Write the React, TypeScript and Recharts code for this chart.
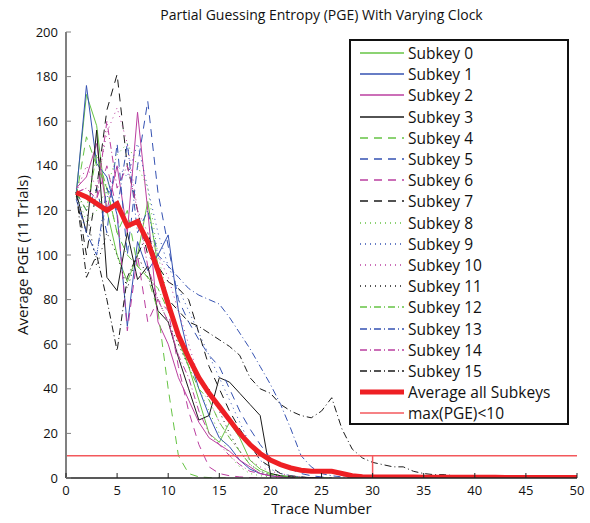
import React from 'react';
import { LineChart, Line, XAxis, YAxis, ReferenceLine } from 'recharts';

const traces = [1, 2, 3, 4, 5, 6, 7, 8, 9, 10, 11, 12, 13, 14, 15, 16, 17, 18, 19, 20, 21, 22, 23, 24, 25, 26, 27, 28, 29, 30, 31, 32, 33, 34, 35, 36, 37, 38, 39, 40, 41, 42, 43, 44, 45, 46, 47, 48, 49, 50];

const xTicks = [0, 5, 10, 15, 20, 25, 30, 35, 40, 45, 50];
const yTicks = [0, 20, 40, 60, 80, 100, 120, 140, 160, 180, 200];

// per-subkey average PGE (series end where they sit on zero)
const subkey0 = [128, 172, 158, 120, 100, 88, 100, 124, 95, 78, 62, 50, 35, 20, 16, 25, 18, 8, 4, 2, 1, 0.5, 0.3, 0.2, 0.1, 0];
const subkey1 = [127, 176, 141, 135, 118, 68, 106, 93, 100, 109, 75, 55, 40, 28, 18, 14, 8, 4, 2, 1, 0.5, 0.3, 0.2, 0.1, 0];
const subkey2 = [130, 135, 150, 120, 140, 110, 164, 120, 70, 60, 45, 35, 25, 18, 15, 12, 8, 5, 2, 1, 0.5, 0.3, 0.2, 0.1, 0];
const subkey3 = [128, 110, 156, 90, 84, 110, 89, 95, 75, 70, 54, 40, 26, 28, 45, 43, 38, 33, 28, 2, 1, 0.5, 0.3, 0.2, 0];
const subkey4 = [126, 153, 140, 130, 110, 120, 95, 90, 75, 40, 10, 2, 0.5, 0.2, 0.1, 0];
const subkey5 = [128, 120, 130, 110, 150, 100, 140, 169, 128, 104, 80, 70, 62, 55, 50, 40, 30, 22, 15, 9, 6, 4, 2, 1, 0.5, 0];
const subkey6 = [128, 130, 125, 140, 120, 66, 100, 70, 80, 75, 50, 30, 15, 5, 2, 1, 0.5, 0.2, 0];
const subkey7 = [128, 100, 130, 165, 181, 140, 120, 100, 95, 88, 85, 80, 65, 50, 40, 30, 22, 15, 8, 5, 2, 1, 0.5, 0];
const subkey8 = [128, 115, 120, 130, 145, 150, 140, 130, 100, 80, 60, 50, 40, 30, 20, 10, 5, 2, 1, 0.5, 0];
const subkey9 = [128, 110, 100, 125, 140, 135, 150, 130, 110, 95, 85, 75, 65, 55, 45, 35, 25, 15, 8, 4, 2, 1, 0.5, 0];
const subkey10 = [128, 140, 130, 155, 166, 150, 120, 110, 100, 90, 75, 60, 45, 35, 25, 18, 12, 8, 5, 3, 2, 1, 0.5, 0];
const subkey11 = [128, 120, 95, 110, 100, 85, 100, 90, 80, 70, 60, 50, 45, 40, 30, 20, 12, 6, 3, 1.5, 1, 0.5, 0];
const subkey12 = [128, 120, 145, 130, 110, 100, 95, 90, 85, 75, 65, 50, 40, 35, 25, 18, 12, 6, 3, 1.5, 1, 0.5, 0];
const subkey13 = [125, 110, 100, 130, 120, 150, 110, 120, 100, 95, 90, 85, 82, 80, 78, 72, 65, 58, 50, 42, 33, 22, 10, 5, 2, 1, 0.5, 0];
const subkey14 = [128, 130, 125, 160, 130, 140, 120, 95, 80, 70, 55, 45, 30, 20, 15, 10, 6, 3, 2, 1, 0.5, 0];
const subkey15 = [128, 90, 100, 80, 57, 90, 100, 110, 95, 80, 75, 70, 68, 65, 62, 59, 55, 45, 40, 38, 33, 30, 28, 27, 30, 36, 22, 13, 9, 7, 6, 5, 5, 3, 2, 1.5, 1.5, 1, 1, 1, 1, 1, 1, 1, 1];
const average = [128, 126, 123, 120, 123, 113, 115, 106, 93, 78, 64, 54, 45, 38, 32, 26, 20, 15, 11, 8, 6, 4.5, 3.5, 3, 3, 3, 2, 1, 0.6, 0.5, 0.4, 0.4, 0.4, 0.4, 0.3, 0.3, 0.3, 0.3, 0.3, 0.3, 0.3, 0.3, 0.2, 0.2, 0.2, 0.2, 0.2, 0.2, 0.2, 0.2];

const pgeLimit = 10;
const limitTrace = 30;

const GREEN = '#66c444';
const BLUE = '#3552b2';
const MAGENTA = '#bb3fa0';
const BLACK = '#1a1a1a';
const RED = '#ee1f24';
const LIMIT_RED = '#f3585c';
const colors = [GREEN, BLUE, MAGENTA, BLACK];
const dashes = [undefined, '8 6', '1 4', '7 3 1 3'];

const subkeys = [subkey0, subkey1, subkey2, subkey3, subkey4, subkey5, subkey6, subkey7, subkey8, subkey9, subkey10, subkey11, subkey12, subkey13, subkey14, subkey15];

const data = traces.map((t, i) => {
  const row: Record<string, number | undefined> = { t, avg: average[i] };
  subkeys.forEach((s, k) => {
    row['s' + k] = s[i];
  });
  return row;
});

const FONT = '"Open Sans", "DejaVu Sans", sans-serif';

function XTick(props: any) {
  const { x, y, payload } = props;
  return (
    <g>
      <line x1={x} y1={y} x2={x} y2={y - 5} stroke="#222" strokeWidth={1} />
      <text x={x} y={y + 17} textAnchor="middle" fontSize={13} fontFamily={FONT} fill="#111">
        {payload.value}
      </text>
    </g>
  );
}

function YTick(props: any) {
  const { x, y, payload } = props;
  return (
    <g>
      <line x1={x} y1={y} x2={x + 5} y2={y} stroke="#808080" strokeWidth={1} />
      <text x={x - 8} y={y + 4.5} textAnchor="end" fontSize={13} fontFamily={FONT} fill="#111">
        {payload.value}
      </text>
    </g>
  );
}

function LegendBox() {
  const rows = subkeys.map((_, k) => ({
    label: 'Subkey ' + k,
    color: colors[k % 4],
    dash: dashes[Math.floor(k / 4)],
    width: 1.5,
  }));
  rows.push({ label: 'Average all Subkeys', color: RED, dash: undefined, width: 5 });
  rows.push({ label: 'max(PGE)<10', color: LIMIT_RED, dash: undefined, width: 1.5 });
  return (
    <div
      style={{
        position: 'absolute',
        left: 349,
        top: 39,
        width: 216,
        height: 382,
        border: '2px solid #111',
        background: '#fff',
        fontFamily: FONT,
      }}
    >
      <svg width={216} height={382} style={{ position: 'absolute', left: 0, top: 0 }}>
        {rows.map((r, i) => {
          const cy = Math.round(12 + i * 21.2);
          return (
            <g key={r.label}>
              <line x1={9} x2={53} y1={cy} y2={cy} stroke={r.color} strokeWidth={r.width} strokeDasharray={r.dash} />
              <text x={57} y={cy + 5.5} fontSize={15.5} fontFamily={FONT} fill="#111">
                {r.label}
              </text>
            </g>
          );
        })}
      </svg>
    </div>
  );
}

export default function App() {
  return (
    <div style={{ position: 'absolute', left: 0, top: 0, width: 590, height: 523, background: '#fff' }}>
      <LineChart
        width={590}
        height={523}
        data={data}
        margin={{ top: 32, right: 13, bottom: 44, left: 65 }}
      >
        <XAxis
          dataKey="t"
          type="number"
          domain={[0, 50]}
          ticks={xTicks}
          interval={0}
          height={1}
          tickSize={0}
          tickMargin={0}
          tick={<XTick />}
          axisLine={{ stroke: '#222', strokeWidth: 1.5 }}
          tickLine={false}
          allowDataOverflow
        />
        <YAxis
          type="number"
          domain={[0, 200]}
          ticks={yTicks}
          interval={0}
          width={1}
          tickSize={0}
          tickMargin={0}
          tick={<YTick />}
          axisLine={{ stroke: '#808080', strokeWidth: 2 }}
          tickLine={false}
          allowDataOverflow
        />
        {subkeys.map((_, k) => (
          <Line
            key={k}
            dataKey={'s' + k}
            stroke={colors[k % 4]}
            strokeWidth={1}
            strokeDasharray={dashes[Math.floor(k / 4)]}
            dot={false}
            isAnimationActive={false}
          />
        ))}
        <ReferenceLine y={pgeLimit} stroke={LIMIT_RED} strokeWidth={1.5} ifOverflow="visible" />
        <ReferenceLine
          segment={[{ x: limitTrace, y: 0 }, { x: limitTrace, y: pgeLimit }]}
          stroke={LIMIT_RED}
          strokeWidth={1.5}
        />
        <Line dataKey="avg" stroke={RED} strokeWidth={5} dot={false} isAnimationActive={false} />
      </LineChart>
      <div
        style={{
          position: 'absolute',
          left: 66,
          width: 511,
          top: 5,
          textAlign: 'center',
          fontFamily: FONT,
          fontSize: 14,
          color: '#111',
        }}
      >
        Partial Guessing Entropy (PGE) With Varying Clock
      </div>
      <div
        style={{
          position: 'absolute',
          left: 66,
          width: 511,
          top: 498,
          textAlign: 'center',
          fontFamily: FONT,
          fontSize: 15,
          color: '#111',
        }}
      >
        Trace Number
      </div>
      <div
        style={{
          position: 'absolute',
          left: 22,
          top: 255,
          transform: 'translate(-50%, -50%) rotate(-90deg)',
          whiteSpace: 'nowrap',
          fontFamily: FONT,
          fontSize: 15,
          color: '#111',
        }}
      >
        Average PGE (11 Trials)
      </div>
      <LegendBox />
    </div>
  );
}
